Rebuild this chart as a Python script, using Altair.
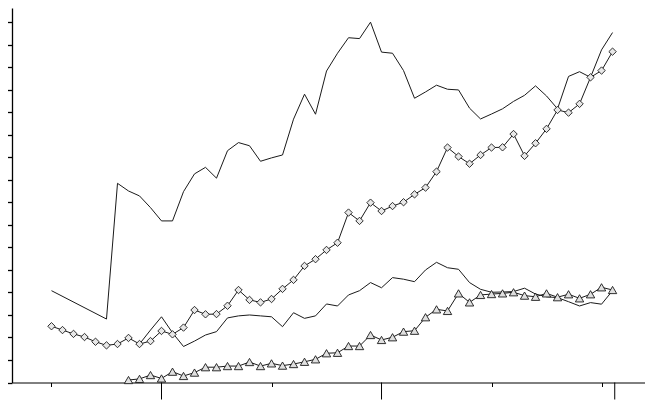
import altair as alt
import pandas as pd

# x positions (years), one point per year
years = list(range(1950, 2002))

# Upper plain line (gap 1951-1954)
top_line = [40.8, None, None, None, None, 28.2, 88.5, 85.1, 82.9, 77.7,
            71.8, 71.8, 84.8, 92.7, 95.6, 90.8, 103.0, 106.6, 105.2, 98.3,
            99.8, 101.1, 117.0, 128.1, 119.2, 138.4, 146.3, 153.2, 152.8, 160.1,
            146.8, 146.3, 138.6, 126.3, 129.1, 132.1, 130.3, 130.0, 121.9, 117.1,
            119.3, 121.6, 124.9, 127.6, 131.8, 127.3, 121.6, 136.0, 138.1, 135.6,
            147.8, 155.5]

# Diamond-marked series
diamond_line = [25.0, 23.3, 21.6, 20.2, 18.1, 16.5, 17.1, 19.8, 17.1, 18.4,
                22.9, 21.4, 24.4, 32.2, 30.3, 30.4, 34.1, 41.1, 36.7, 35.6,
                37.1, 41.6, 45.6, 51.8, 54.8, 58.9, 62.1, 75.5, 71.8, 79.9,
                76.2, 78.4, 80.1, 83.6, 86.6, 93.7, 104.4, 100.4, 97.2, 101.1,
                104.4, 104.5, 110.4, 100.7, 106.3, 112.7, 121.1, 119.9, 123.8, 135.6,
                138.6, 147.0]

# Lower plain line (starts 1958)
low_line = [None, None, None, None, None, None, None, None, 17.1, 23.3,
            29.2, 22.1, 16.0, 18.4, 21.1, 22.6, 28.7, 29.6, 30.0, 29.6,
            29.2, 24.8, 31.0, 28.5, 29.6, 34.9, 34.0, 38.9, 40.8, 44.4,
            42.1, 46.6, 45.9, 44.8, 50.0, 53.4, 51.0, 50.3, 44.4, 41.4,
            40.1, 40.2, 40.4, 41.9, 39.3, 38.1, 37.7, 35.9, 34.0, 35.5,
            34.8, 40.8]

# Triangle-marked series (starts 1957)
triangle_line = [None, None, None, None, None, None, None, 1.1, 1.6, 3.3,
                 1.8, 4.8, 2.9, 4.4, 6.8, 6.8, 7.3, 7.3, 9.1, 7.3,
                 8.5, 7.5, 8.2, 9.2, 10.3, 13.0, 13.2, 16.2, 16.2, 21.1,
                 18.9, 20.1, 22.6, 23.0, 29.0, 32.5, 31.8, 39.6, 35.6, 38.9,
                 39.3, 39.6, 40.1, 38.6, 38.1, 39.6, 37.9, 39.2, 37.4, 39.2,
                 42.3, 41.1]

# axis tick positions
y_ticks = list(range(0, 170, 10))
minor_x_ticks = [1950, 1970, 1990, 2000]
major_x_ticks = [1960, 1980, 2001.2]

rows = []
for name, vals in [("top", top_line), ("diamond", diamond_line),
                   ("low", low_line), ("triangle", triangle_line)]:
    for yr, v in zip(years, vals):
        if v is not None:
            rows.append({"year": yr, "series": name, "value": v})
df = pd.DataFrame(rows)

W, H = 633, 374.5
xs = alt.Scale(domain=[1946.41, 2003.95], nice=False, zero=False)
ys = alt.Scale(domain=[0, 166.4], nice=False, zero=True)

ink = "#1a1a1a"

xaxis = alt.Axis(values=minor_x_ticks, labels=False, title=None, grid=False,
                 tickSize=4, tickColor="black", domainColor="black",
                 domainWidth=1, tickWidth=1, tickCount=100)
yaxis = alt.Axis(values=y_ticks, labels=False, title=None, grid=False,
                 tickSize=10, tickColor="black", domainColor="black",
                 domainWidth=1.3, tickWidth=1.3, tickCount=100)

base = alt.Chart(df)

def line_layer(name):
    return base.transform_filter(alt.datum.series == name).mark_line(
        color=ink, strokeWidth=1
    ).encode(
        x=alt.X("year:Q", scale=xs, axis=xaxis),
        y=alt.Y("value:Q", scale=ys, axis=yaxis),
    )

top_l = line_layer("top")
low_l = line_layer("low")
dia_l = line_layer("diamond")
tri_l = line_layer("triangle")

dia_p = base.transform_filter(alt.datum.series == "diamond").mark_point(
    shape="diamond", size=55, filled=True, fill="#e8e8e8", stroke=ink,
    strokeWidth=0.9, opacity=1
).encode(x=alt.X("year:Q", scale=xs), y=alt.Y("value:Q", scale=ys))

tri_p = base.transform_filter(alt.datum.series == "triangle").mark_point(
    shape="triangle-up", size=70, filled=True, fill="#e0e0e0", stroke=ink,
    strokeWidth=0.9, opacity=1
).encode(x=alt.X("year:Q", scale=xs), y=alt.Y("value:Q", scale=ys))

major = alt.Chart(pd.DataFrame({"year": major_x_ticks})).mark_rule(
    color="black", strokeWidth=1
).encode(
    x=alt.X("year:Q", scale=xs),
    y=alt.value(H),
    y2=alt.value(H + 17),
)

chart = alt.layer(top_l, low_l, dia_l, dia_p, tri_l, tri_p, major).properties(
    width=W, height=H,
    autosize=alt.AutoSizeParams(type="none"),
    padding={"left": 4, "top": 0, "right": 0, "bottom": 17},
    background="white",
).configure_view(stroke=None)

chart.save("out.html", embed_options={"renderer": "svg", "actions": False})
